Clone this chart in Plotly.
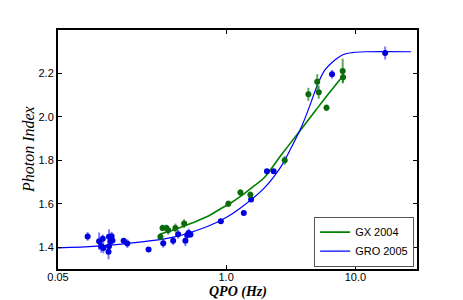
import plotly.graph_objects as go

# ---- data ----
gro_qpo = [0.0848, 0.104, 0.111, 0.108, 0.112, 0.123, 0.124, 0.127, 0.124, 0.132, 0.130,
           0.161, 0.172, 0.251, 0.326, 0.389, 0.425, 0.484, 0.50, 0.513, 0.53,
           0.91, 1.37, 1.56, 2.07, 2.33, 6.6, 17.0]
gro_index = [1.450, 1.428, 1.439, 1.405, 1.397, 1.379, 1.448, 1.428, 1.405, 1.431, 1.451,
             1.430, 1.417, 1.390, 1.418, 1.430, 1.460, 1.430, 1.457, 1.466, 1.459,
             1.520, 1.558, 1.620, 1.750, 1.750, 2.196, 2.294]
gro_err = [0.02, 0.04, 0.02, 0.03, 0.025, 0.035, 0.035, 0.03, 0.025, 0.02, 0.02,
           0.012, 0.02, 0.01, 0.02, 0.02, 0.02, 0.025, 0.02, 0.02, 0.015,
           0.01, 0.01, 0.01, 0.01, 0.01, 0.02, 0.03]

gx_qpo = [0.31, 0.322, 0.345, 0.356, 0.405, 0.473, 1.04, 1.29, 1.54, 2.84,
          4.33, 5.07, 5.21, 5.98, 7.98, 8.03]
gx_index = [1.448, 1.489, 1.489, 1.478, 1.489, 1.509, 1.600, 1.652, 1.642, 1.800,
            2.104, 2.162, 2.114, 2.042, 2.211, 2.183]
gx_err = [0.015, 0.015, 0.015, 0.02, 0.02, 0.02, 0.015, 0.015, 0.015, 0.02,
          0.03, 0.035, 0.03, 0.015, 0.057, 0.025]

# fitted curves
gro_fit_qpo = [0.05, 0.1, 0.222, 0.40, 0.723, 1.0, 1.30, 1.97, 2.65, 3.2, 3.77,
               4.4, 5.07, 5.8, 6.8, 8.1, 9.5, 12, 27]
gro_fit_index = [1.397, 1.405, 1.425, 1.448, 1.497, 1.537, 1.582, 1.672, 1.77, 1.86, 1.945,
                 2.045, 2.145, 2.215, 2.257, 2.287, 2.296, 2.30, 2.30]
gx_fit_qpo = [0.307, 0.40, 0.55, 0.723, 0.9, 1.093, 1.30, 1.6, 1.97, 2.65, 3.77,
              5.0, 6.42, 8.03]
gx_fit_index = [1.46, 1.482, 1.513, 1.543, 1.576, 1.605, 1.635, 1.677, 1.72, 1.822, 1.94,
                2.035, 2.118, 2.19]

x_tickvals = [0.05, 1.0, 10.0]
x_ticktext = ["0.05", "1.0", "10.0"]
y_tickvals = [1.4, 1.6, 1.8, 2.0, 2.2]

BLUE = "#0000ff"
GREEN = "#008000"

fig = go.Figure()

fig.add_trace(go.Scatter(x=gx_fit_qpo, y=gx_fit_index, mode="lines", line_shape="spline",
                         line=dict(color=GREEN, width=1.6), name="GX 2004"))
fig.add_trace(go.Scatter(x=gro_fit_qpo, y=gro_fit_index, mode="lines", line_shape="spline",
                         line=dict(color=BLUE, width=1.2), name="GRO 2005"))

fig.add_trace(go.Scatter(x=gro_qpo, y=gro_index, mode="markers", showlegend=False,
                         marker=dict(color="#0000e0", size=6, line=dict(width=0)),
                         error_y=dict(type="data", array=gro_err, color="rgba(40,40,255,0.6)",
                                      thickness=2, width=0)))
fig.add_trace(go.Scatter(x=gx_qpo, y=gx_index, mode="markers", showlegend=False,
                         marker=dict(color="#0c6a0c", size=6, line=dict(width=0)),
                         error_y=dict(type="data", array=gx_err, color="rgba(0,128,0,0.65)",
                                      thickness=2, width=0)))

axis_common = dict(showline=True, linecolor="black", linewidth=2, mirror="allticks",
                   ticks="inside", ticklen=4, tickcolor="black", showgrid=False, zeroline=False,
                   tickfont=dict(family="Liberation Sans, Arial, sans-serif", size=11, color="black"))

fig.update_xaxes(type="log", range=[-1.301, 1.477], tickvals=x_tickvals, ticktext=x_ticktext,
                 ticklabelstandoff=-3, **axis_common)
fig.update_yaxes(range=[1.3, 2.4], tickvals=y_tickvals, tickformat=".1f", **axis_common)

fig.add_annotation(text="<b><i>QPO (Hz)</i></b>", xref="paper", yref="paper", x=0.5, y=-0.095,
                   xanchor="center", yanchor="middle", showarrow=False,
                   font=dict(family="Liberation Serif, DejaVu Serif, serif", size=14, color="black"))
fig.add_annotation(text="<i>Photon Index</i>", xref="paper", yref="paper", x=-0.082, y=0.5,
                   xanchor="center", yanchor="middle", textangle=-90, showarrow=False,
                   font=dict(family="Liberation Serif, DejaVu Serif, serif", size=16, color="black"))

fig.update_layout(
    width=463, height=300,
    margin=dict(l=58, r=46, t=30, b=31),
    plot_bgcolor="white", paper_bgcolor="white",
    legend=dict(x=0.992, y=0.01, xanchor="right", yanchor="bottom",
                bordercolor="#555555", borderwidth=1, bgcolor="white",
                font=dict(family="Liberation Sans, Arial, sans-serif", size=11, color="black"),
                tracegroupgap=0, itemwidth=30),
)

fig.write_html("out.html", config={"displayModeBar": False},
               post_script="document.body.style.margin='0px';")
